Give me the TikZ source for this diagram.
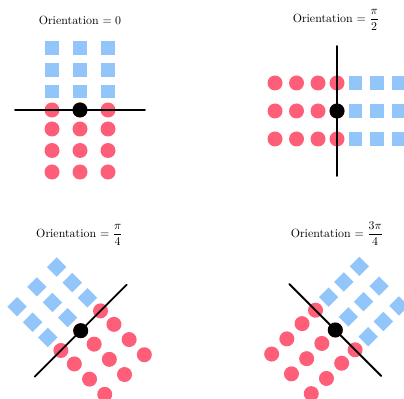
\documentclass[tikz,border=0pt]{standalone}
\usepackage{tkz-euclide}
\definecolor{CircleClr}{RGB}{255,94,121}
\definecolor{SquareClr}{RGB}{146,197,249}

\tikzset{
  title/.style={anchor=base,inner sep=0pt},
}

% markers of one panel, drawn in the rotated frame of the line
\newcommand{\OrientMarks}{%
  \foreach \u in {-28,0,28}{
    \foreach \v in {18.5,40,62}
      \fill[SquareClr] (\u-6.85,\v-6.85) rectangle ++(13.7,13.7);
    \foreach \v in {0,19,40.5,62}
      \fill[CircleClr] (\u,-\v) circle (7.5);
  }
  \tkzDefPoints{-65/0/L,65/0/R,0/0/O}
  \tkzDrawSegment(L,R)
  \fill[black] (O) circle (7.5);
}

\begin{document}
\begin{tikzpicture}[x=0.84pt,y=0.84pt]
\tkzSetUpLine[line width=1.6pt,color=black]
\useasboundingbox (0,0) rectangle (404,398);
\clip (0,0) rectangle (404,398);

\begin{scope}[shift={(80,288)}]
\OrientMarks
\end{scope}
\begin{scope}[shift={(337,287)},rotate=-90]
\OrientMarks
\end{scope}
\begin{scope}[shift={(80.7,67.3)},rotate=45]
\OrientMarks
\end{scope}
\begin{scope}[shift={(335.3,68)},rotate=-45]
\OrientMarks
\end{scope}

\node[title] (t0) at (80,373.3) {Orientation $=0$};
\node[title] (t1) at (336,375.7) {Orientation $\displaystyle=\frac{\pi}{2}$};
\node[title] (t2) at (79.5,160.7) {Orientation $\displaystyle=\frac{\pi}{4}$};
\node[title] (t3) at (337,160.7) {Orientation $\displaystyle=\frac{3\pi}{4}$};

\end{tikzpicture}
\end{document}
